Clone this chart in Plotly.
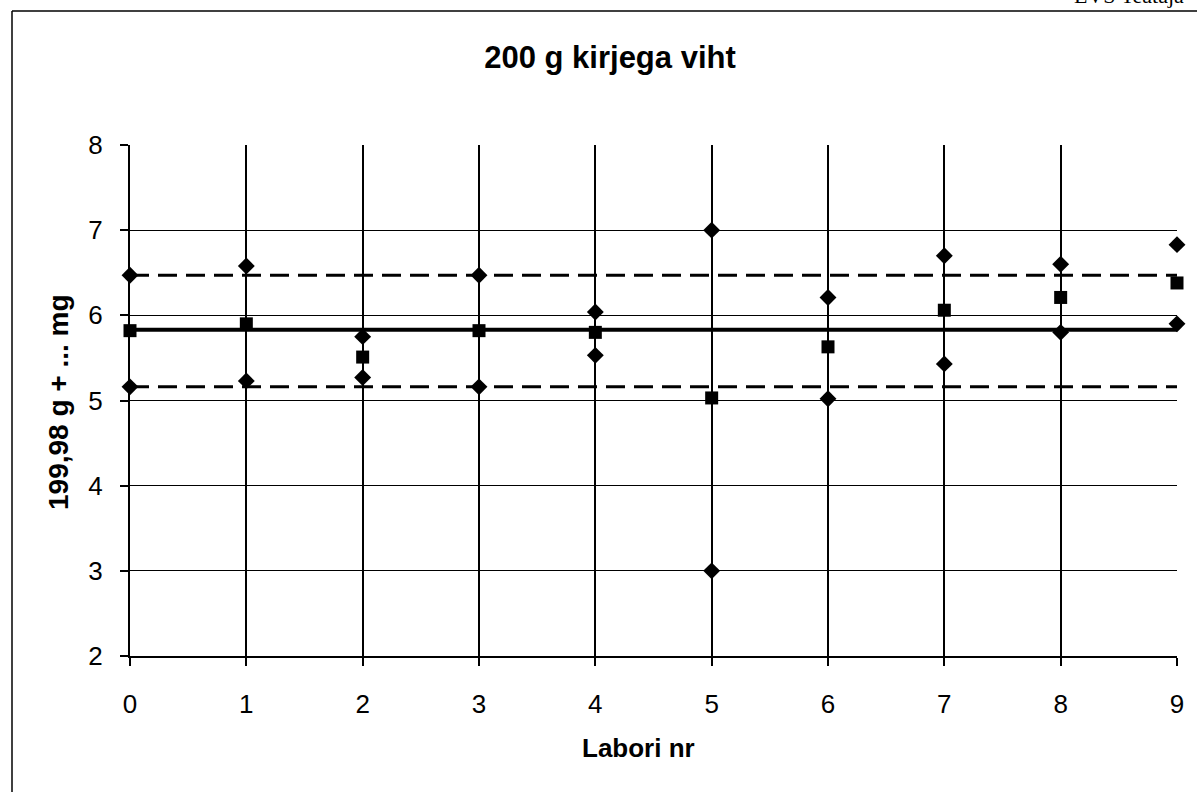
import plotly.graph_objects as go

labs = [0, 1, 2, 3, 4, 5, 6, 7, 8, 9]
upper_pts = [6.47, 6.58, 5.75, 6.47, 6.04, 7.00, 6.21, 6.70, 6.60, 6.83]
lower_pts = [5.16, 5.23, 5.27, 5.16, 5.53, 3.00, 5.02, 5.43, 5.80, 5.90]
mean_pts = [5.82, 5.90, 5.51, 5.82, 5.80, 5.03, 5.63, 6.06, 6.21, 6.38]
line_x = [0, 9]
ref_mean = [5.83, 5.83]
ref_upper = [6.47, 6.47]
ref_lower = [5.16, 5.16]

W, H = 1197, 792
L, R, T, B = 130, 20, 145, 136
pw, ph = W - L - R, H - T - B

def px2x(px):
    return (px - L) / pw

def py2y(py):
    return (H - B - py) / ph

fig = go.Figure()
fig.add_trace(go.Scatter(x=line_x, y=ref_upper, mode="lines",
                         line=dict(color="black", width=3, dash="19px,9px"), hoverinfo="skip"))
fig.add_trace(go.Scatter(x=line_x, y=ref_lower, mode="lines",
                         line=dict(color="black", width=3, dash="19px,9px"), hoverinfo="skip"))
fig.add_trace(go.Scatter(x=line_x, y=ref_mean, mode="lines",
                         line=dict(color="black", width=4), hoverinfo="skip"))
fig.add_trace(go.Scatter(x=labs, y=upper_pts, mode="markers", cliponaxis=False,
                         marker=dict(symbol="diamond", size=13, color="black")))
fig.add_trace(go.Scatter(x=labs, y=lower_pts, mode="markers", cliponaxis=False,
                         marker=dict(symbol="diamond", size=13, color="black")))
fig.add_trace(go.Scatter(x=labs, y=mean_pts, mode="markers", cliponaxis=False,
                         marker=dict(symbol="square", size=13, color="black")))

font_main = "Liberation Sans, Arial, sans-serif"

fig.update_layout(
    width=W, height=H,
    margin=dict(l=L, r=R, t=T, b=B),
    paper_bgcolor="white", plot_bgcolor="white",
    showlegend=False,
    title=dict(text="<b>200 g kirjega viht</b>", x=610 / W, xanchor="center",
               y=1 - 57 / H, yanchor="middle",
               font=dict(family=font_main, size=31, color="black")),
    xaxis=dict(range=[0, 9], tickvals=labs, showgrid=True, gridcolor="black", gridwidth=2,
               showline=True, linecolor="black", linewidth=1.5, zeroline=False,
               ticks="outside", ticklen=8, tickcolor="black", tickwidth=1.5,
               ticklabelstandoff=16,
               tickfont=dict(family=font_main, size=26, color="black")),
    yaxis=dict(range=[2, 8], dtick=1, showgrid=True, gridcolor="black", gridwidth=1.2,
               showline=True, linecolor="black", linewidth=2, zeroline=False,
               ticks="outside", ticklen=8, tickcolor="black", tickwidth=1.5,
               ticklabelstandoff=12,
               tickfont=dict(family=font_main, size=26, color="black")),
)

fig.add_annotation(text="<b>Labori nr</b>", xref="paper", yref="paper",
                   x=px2x(638), xanchor="center", y=py2y(748), yanchor="middle",
                   showarrow=False, font=dict(family=font_main, size=26, color="black"))
fig.add_annotation(text="<b>199,98 g + ... mg</b>", xref="paper", yref="paper",
                   x=px2x(58), xanchor="center", y=py2y(402), yanchor="middle",
                   textangle=-90, showarrow=False,
                   font=dict(family=font_main, size=28, color="black"))

fig.add_shape(type="line", xref="paper", yref="paper",
              x0=px2x(12), x1=px2x(1197), y0=py2y(11), y1=py2y(11),
              line=dict(color="black", width=1.5))
fig.add_shape(type="line", xref="paper", yref="paper",
              x0=px2x(12), x1=px2x(12), y0=py2y(11), y1=py2y(792),
              line=dict(color="black", width=1.5))
fig.add_annotation(text="EVS Teataja", xref="paper", yref="paper",
                   x=px2x(1072), xanchor="left", y=py2y(10), yanchor="bottom",
                   showarrow=False, font=dict(family="Liberation Serif, serif", size=22, color="black"))

fig.write_html("out.html", config={"displayModeBar": False},
               post_script="document.body.style.margin='0';")
